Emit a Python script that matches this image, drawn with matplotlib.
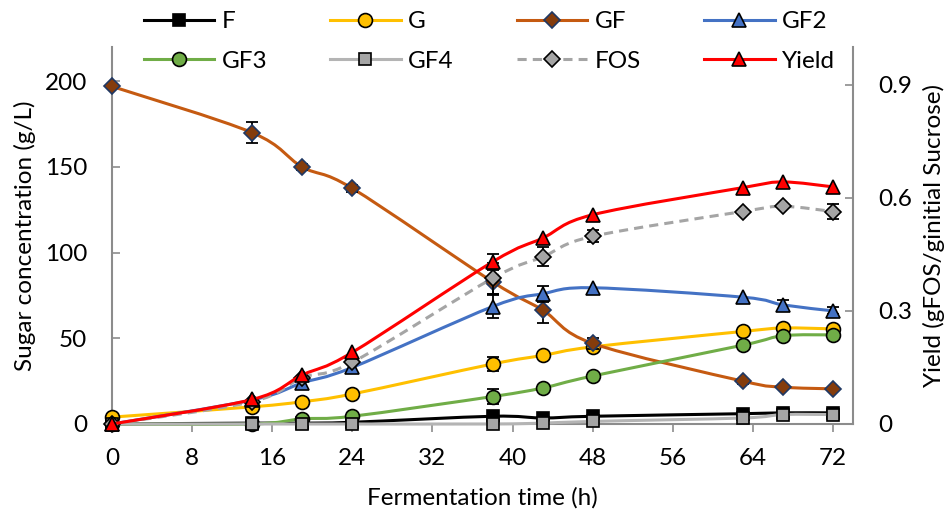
import numpy as np
import matplotlib
matplotlib.use("Agg")
import matplotlib.pyplot as plt
from matplotlib.path import Path
from matplotlib.patches import PathPatch
from matplotlib.lines import Line2D

plt.rcParams['font.family'] = ['Lato', 'DejaVu Sans']

# fermentation time (h)
t = [0, 14, 19, 24, 38, 43, 48, 63, 67, 72]

# sugar concentrations (g/L)
F = [0, 0.5, 0.5, 1, 4.5, 3.5, 4.5, 6, 6.5, 6.5]
G = [4, 10, 13, 17.5, 35, 40, 45, 54, 56, 55.5]
GF = [197, 170, 150, 137.5, 83, 66.5, 47, 25, 21.5, 20.5]
GF2 = [0, 14, 24, 33, 68.5, 76, 79.5, 74, 69.5, 66]
GF3 = [0, 0, 3, 4.5, 16, 21, 28, 46, 51.5, 52]
GF4 = [0, 0, 0, 0, 0, 0.5, 1.5, 3.5, 5.5, 5.5]
FOS = [0, 13, 27, 36, 85, 97.5, 109.5, 124, 127, 124]
# yield (gFOS / g initial sucrose)
Yield = [0, 0.065, 0.13, 0.19, 0.43, 0.493, 0.555, 0.627, 0.642, 0.629]

# standard deviations
GF_err = [0, 6, 2, 2, 7, 7.5, 3, 1.5, 0, 0]
GF2_err = [0, 0, 0, 0, 6.5, 4.7, 0, 0, 3, 2]
G_err = [0, 0, 0, 0, 4, 0, 0, 0, 0, 0]
GF3_err = [0, 0, 0, 0, 4.5, 0, 0, 0, 0, 0]
FOS_err = [0, 0, 0, 0, 9, 5.5, 3.5, 0, 0, 4.5]
Yield_err = [0, 0, 0, 0, 0.02, 0, 0, 0, 0, 0]

FS = 17.5


def smooth_path(x, y):
    # excel-like smoothed line (catmull-rom as cubic bezier)
    p = np.column_stack([x, y]).astype(float)
    n = len(p)
    verts = [p[0]]
    codes = [Path.MOVETO]
    for i in range(n - 1):
        p0 = p[i - 1] if i > 0 else p[i]
        p1 = p[i]
        p2 = p[i + 1]
        p3 = p[i + 2] if i + 2 < n else p[i + 1]
        verts += [p1 + (p2 - p0) / 6, p2 - (p3 - p1) / 6, p2]
        codes += [Path.CURVE4] * 3
    return Path(verts, codes)


def draw(ax, y, err, color, marker, ms, mfc, mec, ls='-', lw=2.2, z=2):
    ax.add_patch(PathPatch(smooth_path(t, y), fill=False, edgecolor=color,
                           lw=lw, linestyle=ls, zorder=z, clip_on=False,
                           capstyle='butt'))
    if err is not None:
        idx = [i for i, e in enumerate(err) if e > 0]
        ax.errorbar([t[i] for i in idx], [y[i] for i in idx],
                    yerr=[err[i] for i in idx], fmt='none', ecolor='black',
                    elinewidth=1.3, capsize=4.5, capthick=1.3, zorder=z + 0.1)
    ax.plot(t, y, ls='none', marker=marker, ms=ms, mfc=mfc, mec=mec, mew=1.2,
            zorder=z + 0.2, clip_on=False)
    return Line2D([], [], color=color, lw=lw, ls=ls, marker=marker, ms=ms,
                  mfc=mfc, mec=mec, mew=1.2)


fig = plt.figure(figsize=(9.5, 5.11), dpi=100)
ax = fig.add_axes([0.1179, 0.1703, 0.78, 0.7377])
ax2 = ax.twinx()

h = {}
h['F'] = draw(ax, F, None, 'black', 's', 9, 'black', 'black', z=2)
h['G'] = draw(ax, G, G_err, '#FFC000', 'o', 10, '#FFC000', 'black', z=3)
h['GF'] = draw(ax, GF, GF_err, '#C55A11', 'D', 8, '#843C0C', '#1F3864', z=4)
h['GF2'] = draw(ax, GF2, GF2_err, '#4472C4', '^', 10.5, '#4472C4', 'black', z=5)
h['GF3'] = draw(ax, GF3, GF3_err, '#70AD47', 'o', 10, '#70AD47', 'black', z=6)
h['GF4'] = draw(ax, GF4, None, '#B4B4B4', 's', 9, '#A5A5A5', 'black', z=7)
h['FOS'] = draw(ax, FOS, FOS_err, '#A5A5A5', 'D', 8, '#A5A5A5', 'black',
                ls=(0, (3, 2)), z=8)
h['Yield'] = draw(ax2, Yield, Yield_err, '#FF0000', '^', 10.5, '#FF0000', 'black', z=9)

ax.set_xlim(0, 74)
ax.set_ylim(0, 220)
ax2.set_ylim(0, 1.0)
ax.set_xticks(range(0, 73, 8))
ax.set_yticks(range(0, 201, 50))
ax2.set_yticks([0, 0.3, 0.6, 0.9])
ax2.set_yticklabels(['0', '0.3', '0.6', '0.9'])

for a in (ax, ax2):
    for s in a.spines.values():
        s.set_color('#8C8C8C')
        s.set_linewidth(1.5)
    a.spines['top'].set_visible(False)
ax.spines['right'].set_visible(False)
ax2.spines['left'].set_visible(False)
ax2.spines['bottom'].set_visible(False)

ax.tick_params(axis='x', direction='out', length=6, width=1.2, color='#8C8C8C',
               labelsize=FS, pad=11)
ax.tick_params(axis='y', direction='in', length=6, width=1.2, color='#8C8C8C',
               labelsize=FS, pad=18)
ax2.tick_params(axis='y', direction='in', length=6, width=1.2, color='#8C8C8C',
                labelsize=FS, pad=18)

ax.set_xlabel('Fermentation time (h)', fontsize=FS, labelpad=13)
ax.set_ylabel('Sugar concentration (g/L)', fontsize=FS, labelpad=6)
ax2.set_ylabel('Yield (gFOS/ginitial Sucrose)', fontsize=FS, labelpad=8)

order = ['F', 'GF3', 'G', 'GF4', 'GF', 'FOS', 'GF2', 'Yield']
fig.legend([h[k] for k in order], order, loc='center',
           bbox_to_anchor=(0.515, 1 - 41.5 / 511), ncol=4, frameon=False,
           fontsize=FS, handlelength=2.9, handletextpad=0.3, columnspacing=2.6,
           labelspacing=0.75, numpoints=1)

fig.savefig('out.png', dpi=100)
